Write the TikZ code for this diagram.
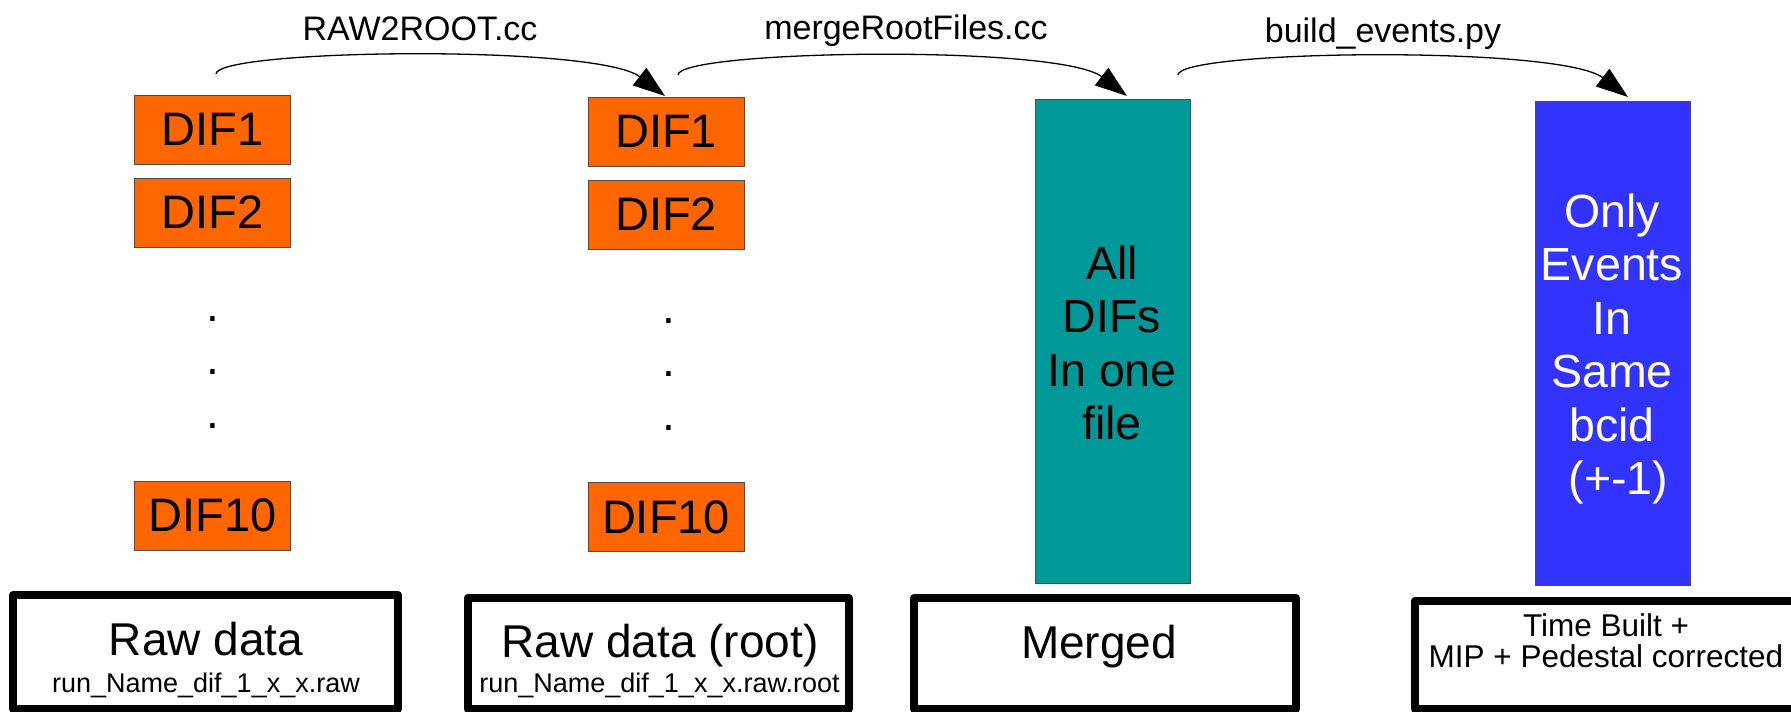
\documentclass[tikz,border=0pt]{standalone}
\usepackage{fontspec}
\setmainfont{Liberation Sans}
\usetikzlibrary{arrows.meta}
\definecolor{difor}{HTML}{FF6600}
\definecolor{mergeteal}{HTML}{009999}
\definecolor{evblue}{HTML}{3333FF}
\tikzset{
  difbox/.style={draw=black!70, line width=1pt, fill=difor, minimum width=156, minimum height=69, inner sep=0pt, font=\fontsize{47}{54}\selectfont},
  tallbox/.style={draw=black!70, line width=1pt, minimum width=155, minimum height=484, inner sep=0pt},
  talltxt/.style={inner sep=0pt, align=center, font=\fontsize{46.5}{53.5}\selectfont},
  stagebox/.style={draw=black, line width=8pt, line join=round, fill=white, inner sep=0pt},
  bigtxt/.style={anchor=base, inner sep=0pt, font=\fontsize{46}{53}\selectfont},
  subtxt/.style={anchor=base, inner sep=0pt, font=\fontsize{27}{31}\selectfont},
  smalltxt/.style={anchor=base, inner sep=0pt, font=\fontsize{31.5}{36}\selectfont},
  progtxt/.style={anchor=base, inner sep=0pt, font=\fontsize{34}{39}\selectfont},
  dottxt/.style={anchor=base, inner sep=0pt, font=\fontsize{46}{53}\selectfont},
  flow/.style={line width=1.3pt, -{Triangle[length=32pt,width=22pt]}}
}
\begin{document}
\begin{tikzpicture}[x=1pt,y=-1pt]
\useasboundingbox (0,0) rectangle (1791,712);
\clip (0,0) rectangle (1791,712);
% left column: raw
\node[difbox] (l1) at (212.5,129.5) {DIF1};
\node[difbox] (l2) at (212.5,212.5) {DIF2};
\node[difbox] (l10) at (212.5,515.5) {DIF10};
\node[dottxt] (ld1) at (213,321) {.};
\node[dottxt] (ld2) at (213,374) {.};
\node[dottxt] (ld3) at (213,428) {.};
% middle column: root
\node[difbox] (m1) at (666,131.5) {DIF1};
\node[difbox] (m2) at (666,214.5) {DIF2};
\node[difbox] (m10) at (666,517) {DIF10};
\node[dottxt] (md1) at (669,323) {.};
\node[dottxt] (md2) at (669,376) {.};
\node[dottxt] (md3) at (669,430) {.};
% merged and events
\node[tallbox, fill=mergeteal] (mg) at (1112.5,341) {};
\node[talltxt] (mgt) at (1112,343) {All\\DIFs\\In one\\file};
\node[tallbox, fill=evblue] (ev) at (1612.5,343) {};
\node[talltxt, text=white] (evt) at (1612,349) {Only\\Events\\In\\Same\\bcid\\\ (+-1)};
% bottom stage boxes
\node[stagebox, minimum width=385, minimum height=114] (s1) at (205.5,652) {};
\node[bigtxt] (s1a) at (206,655) {Raw data};
\node[subtxt] (s1b) at (206,692) {run\_Name\_dif\_1\_x\_x.raw};
\node[stagebox, minimum width=381, minimum height=111] (s2) at (658,653.5) {};
\node[bigtxt] (s2a) at (660,657) {Raw data (root)};
\node[subtxt] (s2b) at (659.5,692) {run\_Name\_dif\_1\_x\_x.raw.root};
\node[stagebox, minimum width=382, minimum height=111] (s3) at (1105,653.5) {};
\node[bigtxt] (s3a) at (1099,658) {Merged};
\node[stagebox, minimum width=390, minimum height=108] (s4) at (1610,655) {};
\node[smalltxt] (s4a) at (1606,636) {Time Built +};
\node[smalltxt] (s4b) at (1606,667) {MIP + Pedestal corrected};
% connectors
\coordinate (a1s) at (216,74);
\coordinate (a1e) at (665,96);
\coordinate (a2s) at (678,75);
\coordinate (a2e) at (1127,96);
\coordinate (a3s) at (1178,75);
\coordinate (a3e) at (1628,97);
\draw[flow] (a1s) .. controls (216,49) and (597,44) .. (a1e);
\draw[flow] (a2s) .. controls (678,50) and (1059,44) .. (a2e);
\draw[flow] (a3s) .. controls (1178,50) and (1560,45) .. (a3e);
\node[progtxt] (p1) at (420,40) {RAW2ROOT.cc};
\node[progtxt] (p2) at (906,39) {mergeRootFiles.cc};
\node[progtxt] (p3) at (1383,42) {build\_events.py};
\end{tikzpicture}
\end{document}
